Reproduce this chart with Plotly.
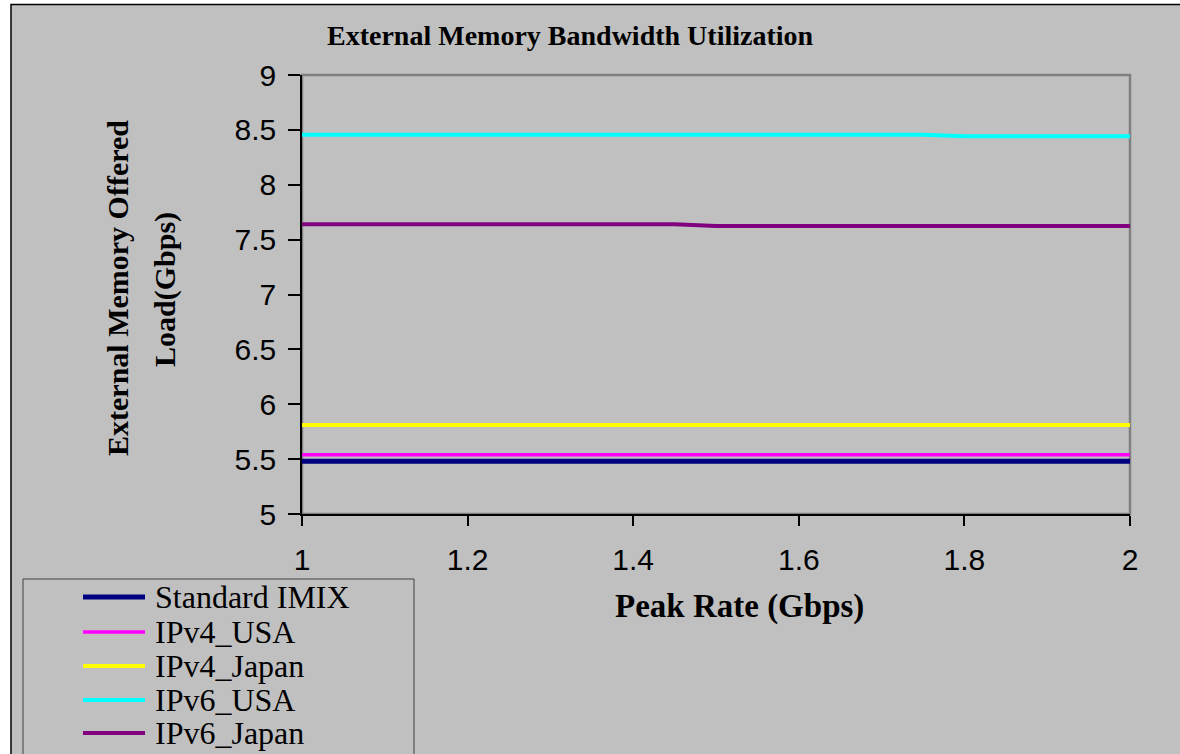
import plotly.graph_objects as go

# Peak rate samples (Gbps)
peak_rate = [1.0, 1.1, 1.2, 1.3, 1.4, 1.45, 1.5, 1.6, 1.7, 1.75, 1.8, 1.9, 2.0]

series_names = ["Standard IMIX", "IPv4_USA", "IPv4_Japan", "IPv6_USA", "IPv6_Japan"]
standard_imix = [5.48, 5.48, 5.48, 5.48, 5.48, 5.48, 5.48, 5.48, 5.48, 5.48, 5.48, 5.48, 5.48]
ipv4_usa = [5.54, 5.54, 5.54, 5.54, 5.54, 5.54, 5.54, 5.54, 5.54, 5.54, 5.54, 5.54, 5.54]
ipv4_japan = [5.81, 5.81, 5.81, 5.81, 5.81, 5.81, 5.81, 5.81, 5.81, 5.81, 5.81, 5.81, 5.81]
ipv6_usa = [8.456, 8.456, 8.456, 8.456, 8.456, 8.456, 8.456, 8.456, 8.456, 8.456, 8.441, 8.441, 8.441]
ipv6_japan = [7.64, 7.64, 7.64, 7.64, 7.64, 7.64, 7.624, 7.624, 7.624, 7.624, 7.624, 7.624, 7.624]

y_ticks = [5, 5.5, 6, 6.5, 7, 7.5, 8, 8.5, 9]
x_ticks = [1, 1.2, 1.4, 1.6, 1.8, 2]

series_values = [standard_imix, ipv4_usa, ipv4_japan, ipv6_usa, ipv6_japan]
colors = ["#000080", "#FF00FF", "#FFFF00", "#00FFFF", "#800080"]
widths = [5, 3.5, 4, 4, 4]

W, H = 1180, 754
L, R, T, B = 302, 1130, 75, 514  # plot area in pixels


def px_x(p):
    return (p - L) / (R - L)


def px_y(p):
    return (B - p) / (B - T)


SERIF = "Liberation Serif, Times New Roman, serif"
SANS = "Liberation Sans, Arial, sans-serif"

fig = go.Figure()
for name, vals, col, w in zip(series_names, series_values, colors, widths):
    fig.add_trace(go.Scatter(x=peak_rate, y=vals, name=name, mode="lines",
                             line=dict(color=col, width=w), showlegend=False))

shapes = [
    # chart background with outer border
    dict(type="rect", xref="paper", yref="paper", layer="below",
         x0=px_x(11), x1=px_x(1200), y0=px_y(780), y1=px_y(4.5),
         fillcolor="#C0C0C0", line=dict(color="black", width=1.5)),
    # plot frame (top/right in gray)
    dict(type="rect", xref="paper", yref="paper", layer="below",
         x0=0, x1=1, y0=0, y1=1, line=dict(color="#808080", width=2.5)),
    # legend box
    dict(type="rect", xref="paper", yref="paper", layer="above",
         x0=px_x(23), x1=px_x(414), y0=px_y(790), y1=px_y(579),
         line=dict(color="#404040", width=1)),
]

annotations = [
    dict(text="<b>External Memory Bandwidth Utilization</b>", xref="paper", yref="paper",
         x=px_x(570), y=px_y(36), xanchor="center", yanchor="middle", showarrow=False,
         font=dict(family=SERIF, size=28, color="black")),
    dict(text="<b>Peak Rate (Gbps)</b>", xref="paper", yref="paper",
         x=px_x(739), y=px_y(606), xanchor="center", yanchor="middle", showarrow=False,
         font=dict(family=SERIF, size=33, color="black")),
    dict(text="<b>External Memory Offered</b>", xref="paper", yref="paper",
         x=px_x(117), y=px_y(288), xanchor="center", yanchor="middle", showarrow=False,
         textangle=-90, font=dict(family=SERIF, size=30, color="black")),
    dict(text="<b>Load(Gbps)</b>", xref="paper", yref="paper",
         x=px_x(165), y=px_y(290), xanchor="center", yanchor="middle", showarrow=False,
         textangle=-90, font=dict(family=SERIF, size=30, color="black")),
]

# legend entries
legend_rows = [597, 632, 666, 700, 733]
for name, col, w, row in zip(series_names, colors, widths, legend_rows):
    shapes.append(dict(type="line", xref="paper", yref="paper",
                       x0=px_x(83), x1=px_x(145), y0=px_y(row), y1=px_y(row),
                       line=dict(color=col, width=w)))
    annotations.append(dict(text=name, xref="paper", yref="paper",
                            x=px_x(153), y=px_y(row), xanchor="left", yanchor="middle",
                            showarrow=False, font=dict(family=SERIF, size=32, color="black")))

fig.update_layout(
    width=W, height=H,
    margin=dict(l=L, r=W - R, t=T, b=H - B, pad=0),
    paper_bgcolor="white",
    plot_bgcolor="rgba(0,0,0,0)",
    showlegend=False,
    shapes=shapes,
    annotations=annotations,
    xaxis=dict(range=[1, 2], tickvals=x_ticks, ticktext=[f"{v:g}" for v in x_ticks],
               ticks="outside", ticklen=10, tickwidth=1.5, tickcolor="black",
               ticklabelstandoff=8,
               showline=True, linecolor="black", linewidth=1.5, showgrid=False,
               zeroline=False, tickfont=dict(family=SANS, size=30, color="black")),
    yaxis=dict(range=[5, 9], tickvals=y_ticks, ticktext=[f"{v:g}" for v in y_ticks],
               ticks="outside", ticklen=12, tickwidth=1.5, tickcolor="black",
               ticklabelstandoff=6,
               showline=True, linecolor="black", linewidth=1.5, showgrid=False,
               zeroline=False, tickfont=dict(family=SANS, size=30, color="black")),
)

fig.write_html("out.html")
